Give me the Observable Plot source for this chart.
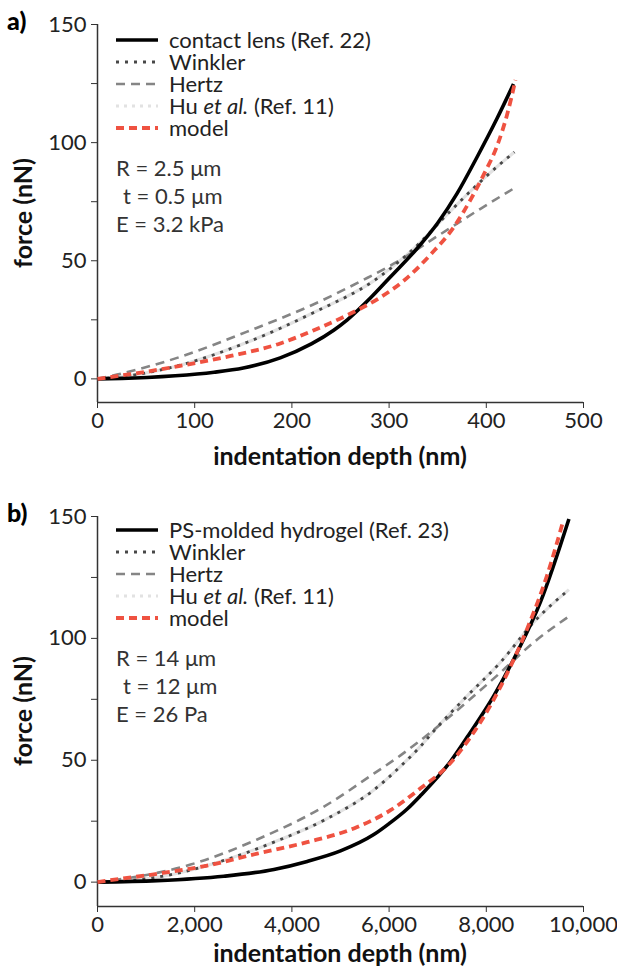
<!DOCTYPE html>
<html>
<head>
<meta charset="utf-8">
<script src="https://cdn.jsdelivr.net/npm/d3@7"></script>
<script src="https://cdn.jsdelivr.net/npm/@observablehq/plot@0.6"></script>
<style>
  html, body { margin: 0; padding: 0; background: #fff; }
  #wrap { width: 617px; position: relative; }
  svg { display: block; }
</style>
</head>
<body>
<div id="wrap"></div>
<script>
// ---------- Panel a data (indentation depth nm, force nN) ----------
const lensA = [[0,0],[25,0.2],[51,0.6],[80,1.3],[120,2.8],[150,4.6],[188,8.9],[220,14.8],[243,20.6],[257,25],[281,34.3],[301,43],[329,55.3],[350,66],[370,78.5],[390,93.5],[411,110.2],[428,124.8]];
const winklerA = [[0,0],[40,1.8],[85,5.8],[154,15.5],[222,28],[286,42],[325,55],[363,71],[394,83.5],[411,89.8],[429,96]];
const hertzA = [[0,0],[20,1.8],[85,9.3],[154,20],[222,31.5],[274,42],[308,49.5],[350,60.5],[394,72],[429,80.8]];
const huA = [[0,0],[40,1.8],[85,5.8],[154,15.5],[222,28],[286,42],[325,55],[363,71],[394,83.5],[411,89.8],[429,96]];
const modelA = [[0,0],[34,2],[85,5.5],[137,9.7],[188,15],[222,20.5],[257,27],[291,34.5],[315,41.5],[343,52.8],[367,64.5],[384,76],[398,87],[411,98.5],[421.5,112],[430,126.5]];

// ---------- Panel b data ----------
const gelB = [[0,0],[1228,0.6],[2600,2.4],[3630,5.2],[4315,8.5],[5000,12.8],[5685,19.5],[6000,24],[6372,30],[6646,35.5],[7263,49.5],[7607,59.5],[8154,76.4],[8636,94.3],[9115,115],[9700,149]];
const winklerB = [[0,0],[1228,2],[2600,8.9],[3630,16.4],[4660,25.4],[5685,37.8],[6235,47.5],[6646,55.7],[6920,62],[7607,76.4],[8292,90.2],[8978,106.7],[9700,120]];
const hertzB = [[0,0],[1228,3.8],[1914,7.2],[3286,17.5],[4660,31],[5685,44.5],[6235,52],[6920,62.5],[7607,74],[8292,86],[8978,98.4],[9700,109]];
const huB = [[0,0],[1228,2],[2600,8.9],[3630,16.4],[4660,25.4],[5685,37.8],[6235,47.5],[6646,55.7],[6920,62],[7607,76.4],[8292,90.2],[8978,106.7],[9700,120]];
const modelB = [[0,0],[200,0.6],[1228,3.4],[2257,6.8],[3286,11.7],[4315,16.4],[5344,22.6],[6029,29.5],[6646,38.5],[7222,48],[7675,59.5],[8086,72.5],[8498,88.5],[8842,104],[9253,126],[9580,148]];

// ---------- ticks & labels ----------
const yMajor = [0, 50, 100, 150];
const yMinor = [25, 75, 125];
const xTicksA = [0, 100, 200, 300, 400, 500];
const xTicksB = [0, 2000, 4000, 6000, 8000, 10000];
const legendNamesA = ["contact lens (Ref. 22)", "Winkler", "Hertz", "Hu|et al.|(Ref. 11)", "model"];
const legendNamesB = ["PS-molded hydrogel (Ref. 23)", "Winkler", "Hertz", "Hu|et al.|(Ref. 11)", "model"];
const paramsA = ["R = 2.5 μm", "t = 0.5 μm", "E = 3.2 kPa"];
const paramsB = ["R = 14 μm", "t = 12 μm", "E = 26 Pa"];

const FONT = "Lato, 'Open Sans', sans-serif";
const FS = 22;
const LFS = 22;
const styles = [
  {stroke: "#000000", strokeWidth: 3.6, dash: null, cap: "butt"},
  {stroke: "#474747", strokeWidth: 2.8, dash: "3,6", cap: "butt"},
  {stroke: "#858585", strokeWidth: 2.6, dash: "9,6", cap: "butt"},
  {stroke: "#e2e2e2", strokeWidth: 3.2, dash: null, cap: "butt"},
  {stroke: "#ef5241", strokeWidth: 3.8, dash: "8,5", cap: "butt"}
];

function panel({series, xTicks, xDomain, xFormat, height, marginTop, marginBottom, tag, legend, params, legendTop, xLabelOffset}) {
  const [lens, winkler, hertz, hu, model] = series;
  const lineOpts = (s) => ({x: d => d[0], y: d => d[1], stroke: s.stroke, strokeWidth: s.strokeWidth,
    strokeDasharray: s.dash, strokeLinecap: s.cap, curve: "monotone-x"});
  const svg = Plot.plot({
    width: 617,
    height,
    marginLeft: 97,
    marginRight: 34,
    marginTop,
    marginBottom,
    style: {fontFamily: FONT, fontSize: FS + "px", color: "#222", background: "#fff", overflow: "visible"},
    x: {domain: xDomain, label: null},
    y: {domain: [-10, 150], label: null},
    marks: [
      Plot.ruleX([xDomain[0]], {stroke: "#333", strokeWidth: 1.5}),
      Plot.ruleY([-10], {stroke: "#333", strokeWidth: 1.5}),
      Plot.axisY({ticks: yMajor, tickSize: 6, tickPadding: 5, tickFormat: d3.format("d"), fontSize: FS, stroke: "#333"}),
      Plot.axisY({ticks: yMinor, tickSize: 6, tickFormat: () => "", stroke: "#333"}),
      Plot.axisX({ticks: xTicks, tickSize: 6, tickPadding: 4, tickFormat: xFormat, fontSize: FS, stroke: "#333"}),
      Plot.line(hu, lineOpts(styles[3])),
      Plot.line(hertz, lineOpts(styles[2])),
      Plot.line(winkler, lineOpts(styles[1])),
      Plot.line(lens, lineOpts(styles[0])),
      Plot.line(model, lineOpts(styles[4]))
    ]
  });
  const s = d3.select(svg);
  const yTop = marginTop, yBot = height - marginBottom;
  // axis titles
  s.append("text").attr("transform", `translate(32,${(yTop + yBot) / 2}) rotate(-90)`)
    .attr("text-anchor", "middle").attr("font-family", FONT).attr("font-size", 25).attr("font-weight", 700)
    .attr("fill", "#111").text("force (nN)");
  s.append("text").attr("x", (97 + 583) / 2).attr("y", yBot + xLabelOffset)
    .attr("text-anchor", "middle").attr("font-family", FONT).attr("font-size", 25).attr("font-weight", 700)
    .attr("fill", "#111").text("indentation depth (nm)");
  // panel tag
  s.append("text").attr("x", 7).attr("y", yTop + 6).attr("text-anchor", "start").attr("font-family", FONT).attr("font-size", 25)
    .attr("font-weight", 900).attr("fill", "#000").text(tag);
  // legend
  const g = s.append("g").attr("font-family", FONT).attr("font-size", LFS).attr("fill", "#222").attr("text-anchor", "start");
  legend.forEach((name, i) => {
    const y = legendTop + i * 22;
    const st = styles[i];
    let ls = st;
    if (i === 3) ls = {...st, dash: "3,5", strokeWidth: 3};
    g.append("line").attr("x1", 116).attr("x2", 158).attr("y1", y).attr("y2", y)
      .attr("stroke", ls.stroke).attr("stroke-width", ls.strokeWidth)
      .attr("stroke-dasharray", ls.dash);
    const t = g.append("text").attr("x", 169).attr("y", y + 8);
    if (name.includes("|")) {
      const [a, b, c] = name.split("|");
      t.append("tspan").text(a + " ");
      t.append("tspan").attr("font-style", "italic").text(b);
      t.append("tspan").text(" " + c);
    } else t.text(name);
  });
  params.forEach((p, i) => {
    g.append("text").attr("x", i === 1 ? 123 : 116).attr("y", legendTop + 128 + i * 28 + 8)
      .attr("fill", "#333").text(p);
  });
  return svg;
}

const wrap = document.getElementById("wrap");
wrap.appendChild(panel({
  series: [lensA, winklerA, hertzA, huA, modelA],
  xTicks: xTicksA, xDomain: [0, 500], xFormat: d3.format("d"),
  height: 485, marginTop: 24, marginBottom: 83, tag: "a)",
  legend: legendNamesA, params: paramsA, legendTop: 40, xLabelOffset: 63
}));
wrap.appendChild(panel({
  series: [gelB, winklerB, hertzB, huB, modelB],
  xTicks: xTicksB, xDomain: [0, 10000], xFormat: d3.format(","),
  height: 486, marginTop: 31, marginBottom: 65, tag: "b)",
  legend: legendNamesB, params: paramsB, legendTop: 45, xLabelOffset: 56
}));
</script>
</body>
</html>
